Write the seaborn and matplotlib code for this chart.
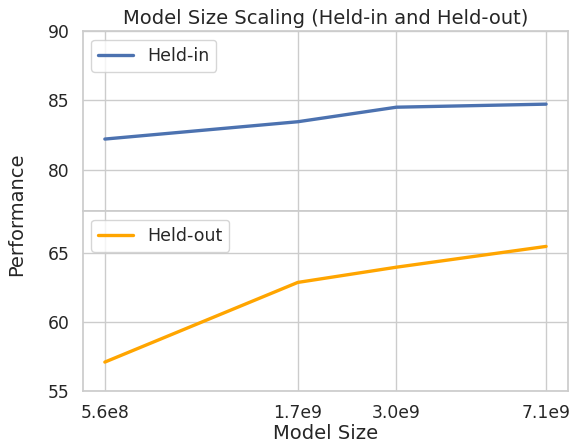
import numpy as np
import pandas as pd
import matplotlib
matplotlib.use("Agg")
import matplotlib.pyplot as plt
import seaborn as sns
from matplotlib.ticker import FixedLocator, FixedFormatter, NullLocator

model_sizes = [5.6e8, 1.7e9, 3.0e9, 7.1e9]
size_labels = ["5.6e8", "1.7e9", "3.0e9", "7.1e9"]
held_in = [82.2, 83.45, 84.5, 84.72]
held_out = [57.1, 62.85, 63.95, 65.45]

sns.set_theme(style="whitegrid")
plt.rcParams["font.family"] = ["DejaVu Sans"]

df_in = pd.DataFrame({"Model Size": model_sizes, "Performance": held_in})
df_out = pd.DataFrame({"Model Size": model_sizes, "Performance": held_out})

fig, (ax1, ax2) = plt.subplots(2, 1, sharex=True, figsize=(5.71, 4.43), dpi=100)
fig.subplots_adjust(left=0.145, right=0.995, top=0.93, bottom=0.117, hspace=0.0)

sns.lineplot(data=df_in, x="Model Size", y="Performance", ax=ax1,
             color="#4c72b0", linewidth=2.4, label="Held-in")
sns.lineplot(data=df_out, x="Model Size", y="Performance", ax=ax2,
             color="orange", linewidth=2.4, label="Held-out")

for ax in (ax1, ax2):
    ax.set_xscale("log")
    ax.xaxis.set_major_locator(FixedLocator(model_sizes))
    ax.xaxis.set_major_formatter(FixedFormatter(size_labels))
    ax.xaxis.set_minor_locator(NullLocator())
    ax.set_ylabel("")
    ax.tick_params(labelsize=12.3)
    ax.legend(loc="upper left", fontsize=12.5)

ax1.set_ylim(77, 90)
ax1.set_yticks([80, 85, 90])
ax2.set_ylim(55, 68)
ax2.set_yticks([55, 60, 65])
ax1.set_xlabel("")
ax1.tick_params(axis="x", labelbottom=False)
ax2.set_xlabel("Model Size", fontsize=14, labelpad=1)
ax1.set_title("Model Size Scaling (Held-in and Held-out)", fontsize=14, pad=5)
fig.text(0.012, 0.516, "Performance", fontsize=14, rotation=90,
         ha="left", va="center")

fig.savefig("out.png", dpi=100)
